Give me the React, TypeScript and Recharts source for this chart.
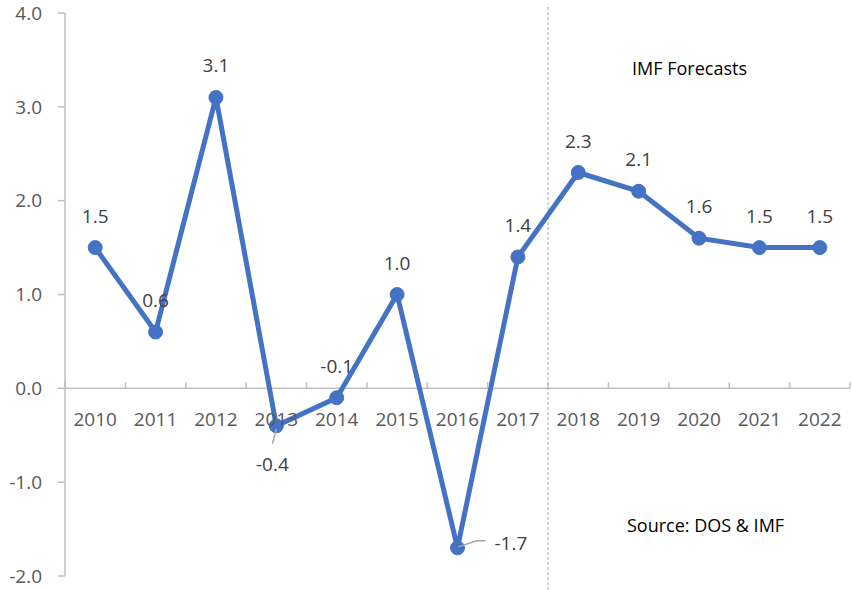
import React from 'react';
import { ComposedChart, Line, XAxis, YAxis, ReferenceLine, LabelList } from 'recharts';

const years = ['2010', '2011', '2012', '2013', '2014', '2015', '2016', '2017', '2018', '2019', '2020', '2021', '2022'];
const growth = [1.5, 0.6, 3.1, -0.4, -0.1, 1.0, -1.7, 1.4, 2.3, 2.1, 1.6, 1.5, 1.5];
const yTicks = [-2, -1, 0, 1, 2, 3, 4];

const data = years.map((year, i) => ({ i, year, value: growth[i] }));

const W = 852;
const H = 590;
const X_AXIS_H = 14;
const M = { top: 13, right: 2, bottom: 0, left: 0 };
const Y_AXIS_W = 65;
const PLOT_W = W - M.left - M.right - Y_AXIS_W;
const PLOT_H = H - M.top - M.bottom - X_AXIS_H;
const BAND = PLOT_W / years.length;
// pixel row of the zero line, from the y domain [-2, 4]
const ZERO_Y = M.top + (PLOT_H * 4) / 6;

const FONT = '"Open Sans", sans-serif';
const BLUE = '#4472C4';

const YearTick = (props: any) => {
  const { x, payload, index } = props;
  const left = x - BAND / 2;
  return (
    <g>
      <line x1={left} x2={left} y1={ZERO_Y - 6} y2={ZERO_Y} stroke="#bfbfbf" strokeWidth={1.5} />
      {index === years.length - 1 && (
        <line x1={x + BAND / 2} x2={x + BAND / 2} y1={ZERO_Y - 6} y2={ZERO_Y} stroke="#bfbfbf" strokeWidth={1.5} />
      )}
      <text x={x} y={ZERO_Y + 31} textAnchor="middle" dominantBaseline="central" fill="#595959" fontSize={19} fontFamily={FONT}>
        {years[payload.value]}
      </text>
    </g>
  );
};

const PointLabel = (props: any) => {
  const { x, y, value, index } = props;
  const txt = Number(value).toFixed(1);
  const style = { fill: '#404040', fontSize: 19, fontFamily: FONT };
  if (years[index] === '2013') {
    return (
      <g>
        <line x1={x} y1={y + 3} x2={x - 4} y2={y + 18} stroke="#a6a6a6" strokeWidth={1.5} />
        <text x={x - 4} y={y + 38} textAnchor="middle" dominantBaseline="central" {...style}>{txt}</text>
      </g>
    );
  }
  if (years[index] === '2016') {
    return (
      <g>
        <path d={`M${x + 1},${y - 1} L${x + 19},${y - 7} L${x + 28},${y - 7}`} fill="none" stroke="#a6a6a6" strokeWidth={1.5} />
        <text x={x + 37} y={y - 5} textAnchor="start" dominantBaseline="central" {...style}>{txt}</text>
      </g>
    );
  }
  return (
    <text x={x} y={y - 32} textAnchor="middle" dominantBaseline="central" {...style}>{txt}</text>
  );
};

export default function App() {
  return (
    <div style={{ position: 'absolute', left: 0, top: 0, width: W, height: H, background: '#fff' }}>
      <ComposedChart width={W} height={H} data={data} margin={M}>
        <YAxis
          type="number"
          domain={[-2, 4]}
          ticks={yTicks}
          interval={0}
          width={Y_AXIS_W}
          tickFormatter={(v) => Number(v).toFixed(1)}
          tick={{ fill: '#595959', fontSize: 19, fontFamily: FONT }}
          tickSize={7}
          tickMargin={16}
          axisLine={{ stroke: '#bfbfbf', strokeWidth: 1.5 }}
          tickLine={{ stroke: '#bfbfbf', strokeWidth: 1.5 }}
        />
        <XAxis
          dataKey="i"
          type="number"
          domain={[-0.5, 12.5]}
          ticks={data.map((d) => d.i)}
          interval={0}
          height={X_AXIS_H}
          axisLine={false}
          tickLine={false}
          tick={<YearTick />}
        />
        <ReferenceLine y={0} stroke="#bfbfbf" strokeWidth={1.5} />
        <ReferenceLine
          segment={[{ x: 7.5, y: -2.15 }, { x: 7.5, y: 4.09 }]}
          ifOverflow="visible"
          stroke="#a6a6a6"
          strokeDasharray="3 2"
          strokeWidth={1}
        />
        <Line
          type="linear"
          dataKey="value"
          stroke={BLUE}
          strokeWidth={5}
          dot={{ r: 7, fill: BLUE, stroke: BLUE, strokeWidth: 1 }}
          activeDot={false}
          isAnimationActive={false}
        >
          <LabelList dataKey="value" content={<PointLabel />} />
        </Line>
      </ComposedChart>
      <div style={{ position: 'absolute', left: 632, top: 56, fontFamily: FONT, fontSize: 18, color: '#000', whiteSpace: 'nowrap' }}>
        IMF Forecasts
      </div>
      <div style={{ position: 'absolute', left: 627, top: 513, fontFamily: FONT, fontSize: 18, color: '#000', whiteSpace: 'nowrap' }}>
        Source: DOS &amp; IMF
      </div>
    </div>
  );
}
